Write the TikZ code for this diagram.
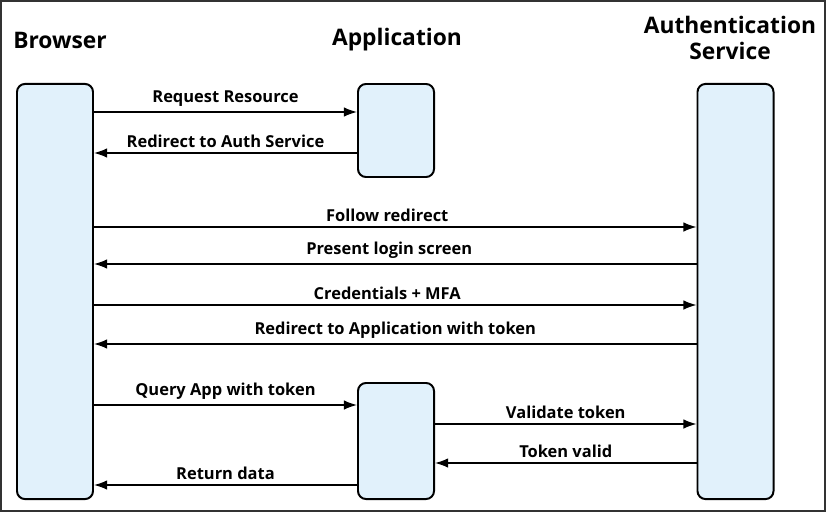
\documentclass[tikz,border=0pt]{standalone}
\usepackage{fontspec}
\setmainfont{Open Sans}
\usepackage{tikz}
\usetikzlibrary{arrows.meta,positioning}

\definecolor{lifefill}{RGB}{225,241,251}

\tikzset{
  lifebox/.style={draw=black, line width=1.4pt, fill=lifefill, rounded corners=0.2cm,
    minimum width=1.9cm, inner sep=0pt},
  title/.style={font=\fontsize{16.2}{21}\selectfont\bfseries, align=center},
  msg/.style={line width=1pt, -{Latex[length=0.33cm,width=0.24cm]}},
  msglabel/.style={font=\fontsize{11.7}{14}\selectfont\bfseries, above, inner sep=3.6pt}
}

\begin{document}
\begin{tikzpicture}[x=0.025cm,y=-0.025cm]
	\useasboundingbox (0,0) rectangle (826,513);
	\draw[line width=1.2pt,black!80] (1,1) rectangle (825,511);

	% titles
	\node[title] (tbrowser) at (60,40) {Browser};
	\node[title] (tapp) at (397,40) {Application};
	\node[title] (tauth) at (730,38) {Authentication\\[-3pt]Service};

	% lifelines
	\node[lifebox, minimum height=10.375cm] (browser) at (55,291.5) {};
	\node[lifebox, minimum height=2.325cm] (appa) at (396,130.5) {};
	\node[lifebox, minimum height=2.9cm] (appb) at (396,441) {};
	\node[lifebox, minimum height=10.375cm] (auth) at (735.5,291.5) {};

	% message rows
	\coordinate (r1) at (0,112);
	\coordinate (r2) at (0,153);
	\coordinate (r3) at (0,227);
	\coordinate (r4) at (0,264);
	\coordinate (r5) at (0,305);
	\coordinate (r6) at (0,344);
	\coordinate (r7) at (0,405);
	\coordinate (r8) at (0,424);
	\coordinate (r9) at (0,463);
	\coordinate (r10) at (0,485);

	\draw[msg] (browser.east|-r1) -- node[msglabel] {Request Resource} (appa.west|-r1);
	\draw[msg] (appa.west|-r2) -- node[msglabel] {Redirect to Auth Service} (browser.east|-r2);
	\draw[msg] (browser.east|-r3) -- node[msglabel, xshift=-0.2cm] {Follow redirect} (auth.west|-r3);
	\draw[msg] (auth.west|-r4) -- node[msglabel, xshift=-0.15cm] {Present login screen} (browser.east|-r4);
	\draw[msg] (browser.east|-r5) -- node[msglabel, xshift=-0.2cm] {Credentials + MFA} (auth.west|-r5);
	\draw[msg] (auth.west|-r6) -- node[msglabel] {Redirect to Application with token} (browser.east|-r6);
	\draw[msg] (browser.east|-r7) -- node[msglabel] {Query App with token} (appb.west|-r7);
	\draw[msg] (appb.east|-r8) -- node[msglabel] {Validate token} (auth.west|-r8);
	\draw[msg] (auth.west|-r9) -- node[msglabel] {Token valid} (appb.east|-r9);
	\draw[msg] (appb.west|-r10) -- node[msglabel] {Return data} (browser.east|-r10);
\end{tikzpicture}
\end{document}
